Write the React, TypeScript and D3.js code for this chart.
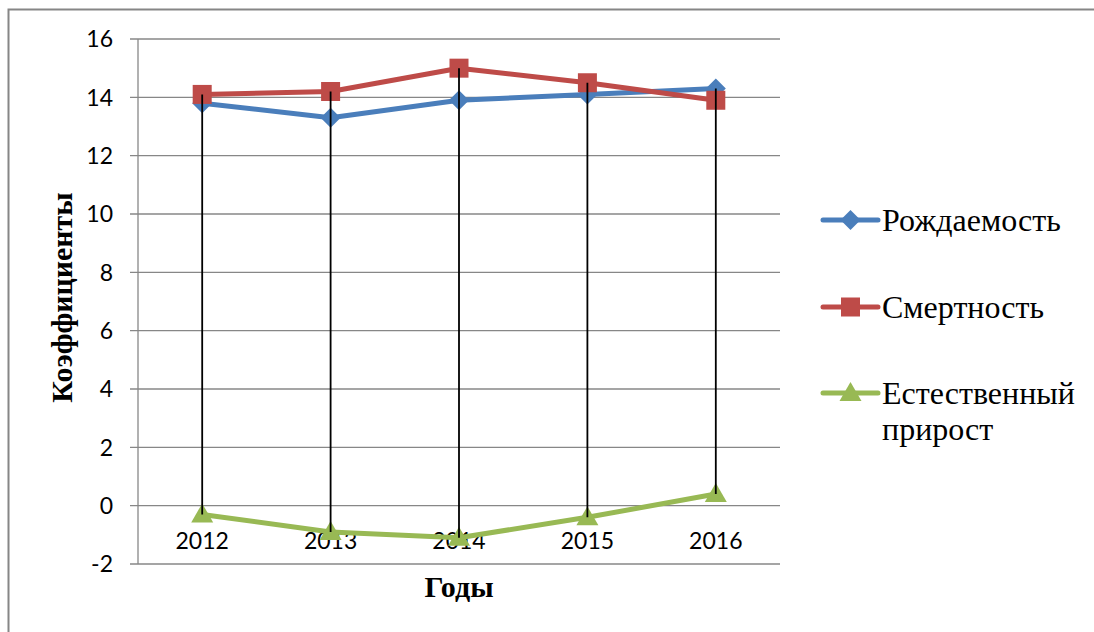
import { useRef, useEffect } from "react";
import * as d3 from "d3";

const years = ["2012", "2013", "2014", "2015", "2016"];
const birthRate = [13.8, 13.3, 13.9, 14.1, 14.3];
const deathRate = [14.1, 14.2, 15.0, 14.5, 13.9];
const naturalGrowth = [-0.3, -0.9, -1.1, -0.4, 0.4];
const yTicks = [-2, 0, 2, 4, 6, 8, 10, 12, 14, 16];

const SERIES = [
  { name: "Рождаемость", values: birthRate, color: "#4A7EBB", marker: "diamond" },
  { name: "Смертность", values: deathRate, color: "#BE4B48", marker: "square" },
  { name: "Естественный прирост", values: naturalGrowth, color: "#98B954", marker: "triangle" },
];

const W = 1094;
const H = 632;

export default function App() {
  const svgRef = useRef<SVGSVGElement>(null);

  useEffect(() => {
    if (!svgRef.current) return;
    const svg = d3.select(svgRef.current);
    svg.selectAll("*").remove();

    const plot = { left: 138, right: 780, top: 39, bottom: 564 };

    const x = d3.scaleBand().domain(years).range([plot.left, plot.right]);
    const y = d3.scaleLinear().domain([-2, 16]).range([plot.bottom, plot.top]);
    const cx = (d: string) => (x(d) ?? 0) + x.bandwidth() / 2;

    // outer frame
    svg.append("rect").attr("x", 8.5).attr("y", 9.5).attr("width", W).attr("height", H)
      .attr("fill", "white").attr("stroke", "#868686").attr("stroke-width", 2);

    // gridlines
    svg.append("g").selectAll("line").data(yTicks).enter().append("line")
      .attr("x1", plot.left - 8).attr("x2", plot.right)
      .attr("y1", (d) => y(d)).attr("y2", (d) => y(d))
      .attr("stroke", "#878787").attr("stroke-width", 1.3);

    // y axis line
    svg.append("line").attr("x1", plot.left).attr("x2", plot.left)
      .attr("y1", plot.top).attr("y2", plot.bottom)
      .attr("stroke", "#878787").attr("stroke-width", 1.3);

    // y tick labels
    svg.append("g").selectAll("text").data(yTicks).enter().append("text")
      .attr("x", 113).attr("y", (d) => y(d)).attr("dy", "0.36em")
      .attr("text-anchor", "end")
      .style("font-family", "Lato, 'Open Sans', sans-serif").style("font-size", "23px").style("fill", "#000")
      .text((d) => d);

    // category labels
    svg.append("g").selectAll("text").data(years).enter().append("text")
      .attr("x", (d) => cx(d)).attr("y", y(0) + 43)
      .attr("text-anchor", "middle")
      .style("font-family", "Lato, 'Open Sans', sans-serif").style("font-size", "23px").style("fill", "#000")
      .text((d) => d);

    // series lines
    const line = d3.line<number>().x((_, i) => cx(years[i])).y((d) => y(d));
    SERIES.forEach((s) => {
      svg.append("path").datum(s.values).attr("d", line)
        .attr("fill", "none").attr("stroke", s.color).attr("stroke-width", 5)
        .attr("stroke-linejoin", "round");
    });

    const drawMarker = (g: d3.Selection<any, any, any, any>, type: string, px: number, py: number, color: string) => {
      if (type === "diamond") {
        g.append("path").attr("d", `M${px},${py - 10}L${px + 10},${py}L${px},${py + 10}L${px - 10},${py}Z`).attr("fill", color);
      } else if (type === "square") {
        g.append("rect").attr("x", px - 9.5).attr("y", py - 9.5).attr("width", 19).attr("height", 19).attr("fill", color);
      } else {
        g.append("path").attr("d", `M${px},${py - 11}L${px + 11},${py + 8}L${px - 11},${py + 8}Z`).attr("fill", color);
      }
    };

    // markers
    SERIES.forEach((s) => {
      const g = svg.append("g");
      s.values.forEach((v, i) => drawMarker(g, s.marker, cx(years[i]), y(v), s.color));
    });

    // high-low lines
    svg.append("g").selectAll("line").data(years).enter().append("line")
      .attr("x1", (d) => cx(d)).attr("x2", (d) => cx(d))
      .attr("y1", (_, i) => y(d3.max(SERIES, (s) => s.values[i]) ?? 0))
      .attr("y2", (_, i) => y(d3.min(SERIES, (s) => s.values[i]) ?? 0))
      .attr("stroke", "#000").attr("stroke-width", 1.8);

    // axis titles
    svg.append("text").attr("transform", `translate(72,${(plot.top + plot.bottom) / 2 - 4}) rotate(-90)`)
      .attr("text-anchor", "middle")
      .style("font-family", "'Liberation Serif', 'Times New Roman', serif").style("font-size", "30px")
      .style("font-weight", "bold").style("fill", "#000")
      .text("Коэффициенты");
    svg.append("text").attr("x", (plot.left + plot.right) / 2).attr("y", 597)
      .attr("text-anchor", "middle")
      .style("font-family", "'Liberation Serif', 'Times New Roman', serif").style("font-size", "30px")
      .style("font-weight", "bold").style("fill", "#000")
      .text("Годы");

    // legend
    const legendRows = [
      { s: SERIES[0], y: 220, lines: ["Рождаемость"] },
      { s: SERIES[1], y: 307, lines: ["Смертность"] },
      { s: SERIES[2], y: 393, lines: ["Естественный", "прирост"] },
    ];
    legendRows.forEach((r) => {
      const g = svg.append("g");
      g.append("line").attr("x1", 823).attr("x2", 878).attr("y1", r.y).attr("y2", r.y)
        .attr("stroke", r.s.color).attr("stroke-width", 5).attr("stroke-linecap", "round");
      drawMarker(g, r.s.marker, 850.5, r.y, r.s.color);
      const t = g.append("text").attr("x", 882).attr("y", r.y + 11)
        .style("font-family", "'Liberation Serif', 'Times New Roman', serif").style("font-size", "32px")
        .style("fill", "#000");
      r.lines.forEach((ln, i) => {
        t.append("tspan").attr("x", 882).attr("dy", i === 0 ? 0 : 36).text(ln);
      });
    });

    return () => {
      svg.selectAll("*").remove();
    };
  }, []);

  return (
    <div style={{ position: "fixed", left: 0, top: 0, width: W, height: H, background: "white" }}>
      <svg ref={svgRef} width={W} height={H} style={{ display: "block" }} />
    </div>
  );
}
